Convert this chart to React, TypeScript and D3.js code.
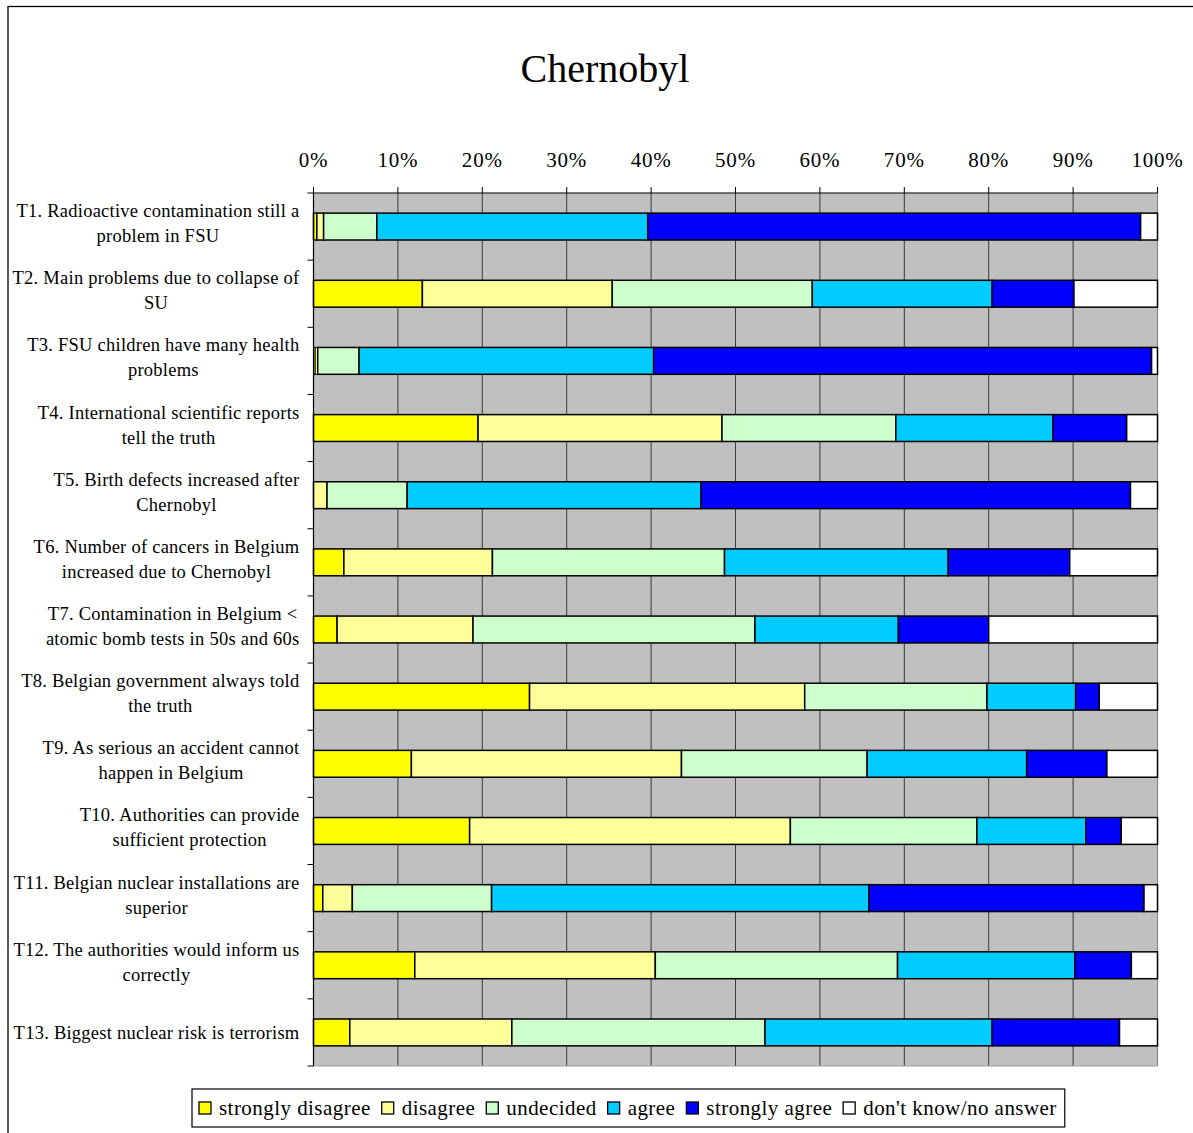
import React, { useEffect, useRef } from "react";
import * as d3 from "d3";

const title = "Chernobyl";

const categories: string[] = [
  "T1. Radioactive contamination still a\nproblem in FSU",
  "T2. Main problems due to collapse of\nSU",
  "T3. FSU children have many health\nproblems",
  "T4. International scientific reports\ntell the truth",
  "T5. Birth defects increased after\nChernobyl",
  "T6. Number of cancers in Belgium\nincreased due to Chernobyl",
  "T7. Contamination in Belgium <\natomic bomb tests in 50s and 60s",
  "T8. Belgian government always told\nthe truth",
  "T9. As serious an accident cannot\nhappen in Belgium",
  "T10. Authorities can provide\nsufficient protection",
  "T11. Belgian nuclear installations are\nsuperior",
  "T12. The authorities would inform us\ncorrectly",
  "T13. Biggest nuclear risk is terrorism",
];

const seriesNames = [
  "strongly disagree",
  "disagree",
  "undecided",
  "agree",
  "strongly agree",
  "don't know/no answer",
];

const stronglyDisagree = [0.4, 12.9, 0.2, 19.5, 0, 3.6, 2.8, 25.6, 11.6, 18.5, 1.1, 12.0, 4.3];
const disagree = [0.8, 22.5, 0.3, 28.9, 1.6, 17.6, 16.1, 32.6, 32.0, 38.0, 3.5, 28.5, 19.2];
const undecided = [6.3, 23.7, 4.9, 20.6, 9.5, 27.5, 33.4, 21.6, 22.0, 22.1, 16.5, 28.7, 30.0];
const agree = [32.1, 21.3, 34.9, 18.6, 34.8, 26.5, 17.0, 10.5, 18.9, 12.9, 44.7, 21.0, 26.9];
const stronglyAgree = [58.4, 9.7, 59.0, 8.75, 50.9, 14.4, 10.7, 2.8, 9.5, 4.2, 32.6, 6.7, 15.1];
const dontKnow = [2.0, 9.9, 0.7, 3.65, 3.2, 10.4, 20.0, 6.9, 6.0, 4.3, 1.6, 3.1, 4.5];

const seriesValues = [stronglyDisagree, disagree, undecided, agree, stronglyAgree, dontKnow];
const seriesColors = ["#FFFF00", "#FFFF99", "#CCFFCC", "#00CCFF", "#0000FF", "#FFFFFF"];

const tickValues = [0, 0.1, 0.2, 0.3, 0.4, 0.5, 0.6, 0.7, 0.8, 0.9, 1.0];

const W = 1193;
const H = 1133;
const FONT = "'Liberation Serif', 'Times New Roman', serif";

export default function App() {
  const ref = useRef<SVGSVGElement | null>(null);

  useEffect(() => {
    const svg = d3.select(ref.current);
    svg.selectAll("*").remove();

    const left = 313.5;
    const right = 1157.5;
    const top = 193;
    const bottom = 1066;

    const x = d3.scaleLinear().domain([0, 1]).range([left, right]);
    const y = d3
      .scaleBand<number>()
      .domain(categories.map((_, i) => i))
      .range([top, bottom])
      .paddingInner(0)
      .paddingOuter(0);

    // outer frame
    svg
      .append("rect")
      .attr("x", 8)
      .attr("y", 6.5)
      .attr("width", W + 20)
      .attr("height", H + 20)
      .attr("fill", "none")
      .attr("stroke", "#000")
      .attr("stroke-width", 1.3);

    // title
    svg
      .append("text")
      .attr("x", 605)
      .attr("y", 82)
      .attr("text-anchor", "middle")
      .attr("font-family", FONT)
      .attr("font-size", 40)
      .attr("fill", "#000")
      .text(title);

    // plot background
    svg
      .append("rect")
      .attr("x", left)
      .attr("y", top)
      .attr("width", right - left)
      .attr("height", bottom - top)
      .attr("fill", "#C0C0C0");

    // vertical gridlines
    svg
      .append("g")
      .selectAll("line")
      .data(tickValues.slice(1, -1))
      .join("line")
      .attr("x1", (d) => x(d))
      .attr("x2", (d) => x(d))
      .attr("y1", top)
      .attr("y2", bottom)
      .attr("stroke", "#3a3a3a")
      .attr("stroke-width", 1);

    // plot border right/bottom
    svg
      .append("line")
      .attr("x1", right)
      .attr("x2", right)
      .attr("y1", top)
      .attr("y2", bottom)
      .attr("stroke", "#808080")
      .attr("stroke-width", 1);
    svg
      .append("line")
      .attr("x1", left)
      .attr("x2", right)
      .attr("y1", bottom)
      .attr("y2", bottom)
      .attr("stroke", "#a0a0a0")
      .attr("stroke-width", 1);

    // stacked bars
    const table = categories.map((_, i) => {
      const row: Record<string, number> = { idx: i };
      seriesNames.forEach((s, j) => (row[s] = seriesValues[j][i]));
      return row;
    });
    const stacked = d3
      .stack<Record<string, number>>()
      .keys(seriesNames)
      .offset(d3.stackOffsetExpand)(table);

    const bw = y.bandwidth() * 0.4;
    const gBars = svg.append("g");
    stacked.forEach((layer, j) => {
      gBars
        .append("g")
        .selectAll("rect")
        .data(layer)
        .join("rect")
        .attr("x", (d) => x(d[0]))
        .attr("width", (d) => Math.max(0, x(d[1]) - x(d[0])))
        .attr("y", (d) => (y(d.data.idx) as number) + y.bandwidth() / 2 - bw / 2)
        .attr("height", bw)
        .attr("fill", seriesColors[j])
        .attr("stroke", "#000")
        .attr("stroke-width", (d) => (d[1] - d[0] > 0 ? (x(d[1]) - x(d[0]) < 3 ? 1 : 1.5) : 0));
    });

    // top axis
    const gTop = svg.append("g");
    gTop
      .append("line")
      .attr("x1", left)
      .attr("x2", right)
      .attr("y1", top)
      .attr("y2", top)
      .attr("stroke", "#000")
      .attr("stroke-width", 1.2);
    gTop
      .selectAll("line.tick")
      .data(tickValues)
      .join("line")
      .attr("class", "tick")
      .attr("x1", (d) => x(d))
      .attr("x2", (d) => x(d))
      .attr("y1", top - 6)
      .attr("y2", top)
      .attr("stroke", "#000")
      .attr("stroke-width", 1);
    const fmt = d3.format(".0%");
    gTop
      .selectAll("text")
      .data(tickValues)
      .join("text")
      .attr("x", (d) => x(d))
      .attr("y", 167)
      .attr("text-anchor", "middle")
      .attr("font-family", FONT)
      .attr("font-size", 21)
      .attr("letter-spacing", 0.8)
      .text((d) => fmt(d));

    // left axis
    const gLeft = svg.append("g");
    gLeft
      .append("line")
      .attr("x1", left)
      .attr("x2", left)
      .attr("y1", top)
      .attr("y2", bottom)
      .attr("stroke", "#000")
      .attr("stroke-width", 1.2);
    const boundaries = categories.map((_, i) => y(i) as number).concat([bottom]);
    gLeft
      .selectAll("line.tick")
      .data(boundaries)
      .join("line")
      .attr("class", "tick")
      .attr("x1", left - 6)
      .attr("x2", left)
      .attr("y1", (d) => d)
      .attr("y2", (d) => d)
      .attr("stroke", "#000")
      .attr("stroke-width", 1);

    // category labels
    const labelRight = 299.5;
    categories.forEach((cat, i) => {
      const lines = cat.split("\n");
      const cy = (y(i) as number) + y.bandwidth() / 2;
      const baselines =
        lines.length === 1 ? [cy + 6.5] : [cy - 9.5, cy + 15.5];
      const texts = lines.map((ln, k) =>
        gLeft
          .append("text")
          .attr("y", baselines[k])
          .attr("text-anchor", "middle")
          .attr("font-family", FONT)
          .attr("font-size", 18.5)
          .attr("letter-spacing", 0.25)
          .text(ln)
      );
      const widths = texts.map((t) => (t.node() as SVGTextElement).getComputedTextLength());
      const maxW = Math.max(...widths);
      const cx = labelRight - maxW / 2;
      texts.forEach((t) => t.attr("x", cx));
    });

    // legend
    const gLeg = svg.append("g");
    const legTop = 1089;
    const legBottom = 1127;
    let lx = 199;
    const sw = 12;
    const entries: { sx: number; tx: number; j: number }[] = [];
    const legTexts = seriesNames.map((name) =>
      gLeg
        .append("text")
        .attr("y", 1114.5)
        .attr("font-family", FONT)
        .attr("font-size", 21)
        .attr("letter-spacing", 0.45)
        .text(name)
    );
    legTexts.forEach((t, j) => {
      const w = (t.node() as SVGTextElement).getComputedTextLength();
      entries.push({ sx: lx, tx: lx + sw + 8, j });
      t.attr("x", lx + sw + 8);
      lx = lx + sw + 8 + w + 11;
    });
    const legRight = lx - 11 + 8;
    gLeg
      .insert("rect", ":first-child")
      .attr("x", 192)
      .attr("y", legTop)
      .attr("width", legRight - 192)
      .attr("height", legBottom - legTop)
      .attr("fill", "#fff")
      .attr("stroke", "#000")
      .attr("stroke-width", 1.2);
    gLeg
      .selectAll("rect.sw")
      .data(entries)
      .join("rect")
      .attr("class", "sw")
      .attr("x", (d) => d.sx)
      .attr("y", 1102)
      .attr("width", sw)
      .attr("height", sw)
      .attr("fill", (d) => seriesColors[d.j])
      .attr("stroke", "#000")
      .attr("stroke-width", 1.3);
  }, []);

  return (
    <svg
      ref={ref}
      width={W}
      height={H}
      style={{ position: "absolute", left: 0, top: 0, background: "#fff" }}
    />
  );
}
